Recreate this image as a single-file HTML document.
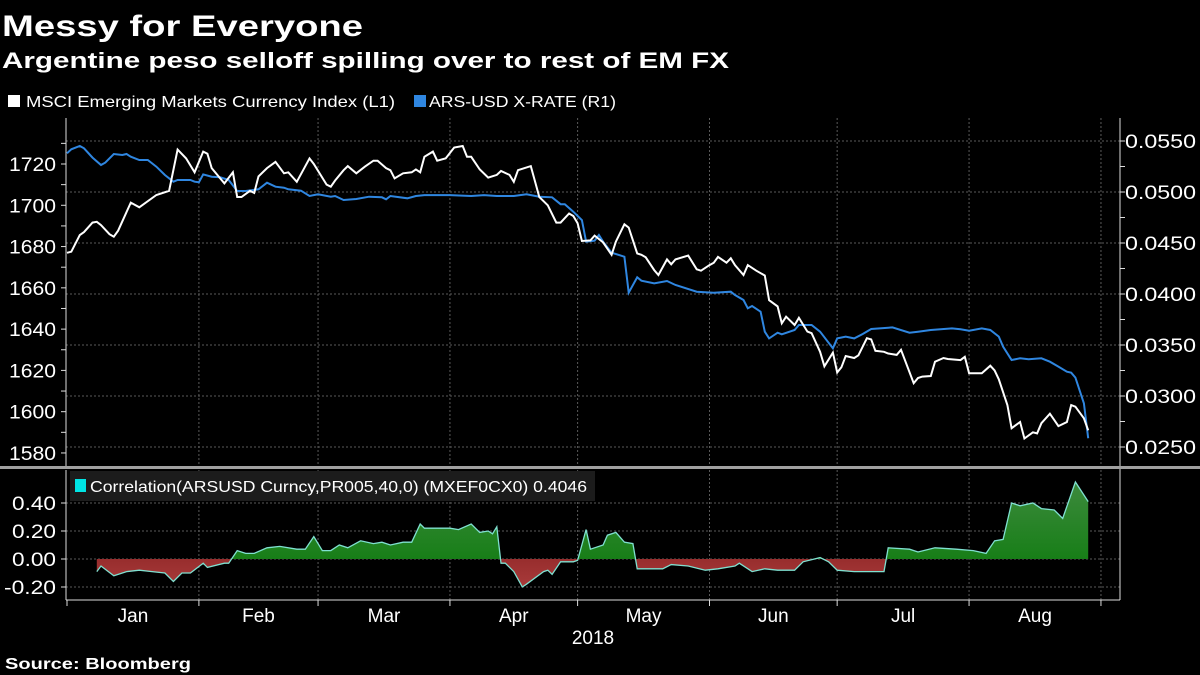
<!DOCTYPE html>
<html><head><meta charset="utf-8"><style>
html,body{margin:0;padding:0;background:#000;}
svg{display:block;font-family:"Liberation Sans",sans-serif;}
</style></head><body>
<svg id="chart" width="1200" height="675" viewBox="0 0 1200 675">
<defs>
<linearGradient id="gG" x1="0" y1="0" x2="0" y2="1"><stop offset="0" stop-color="#3d8a3d"/><stop offset="1" stop-color="#0a7a0a"/></linearGradient>
<linearGradient id="gR" x1="0" y1="0" x2="0" y2="1"><stop offset="0" stop-color="#6b0a0a"/><stop offset="1" stop-color="#a83a3a"/></linearGradient>
<clipPath id="cAbove"><rect x="60" y="440" width="1100" height="119"/></clipPath>
<clipPath id="cBelow"><rect x="60" y="559" width="1100" height="60"/></clipPath>
</defs>
<text x="2" y="36" fill="#fff" font-weight="bold" font-size="30" textLength="361" lengthAdjust="spacingAndGlyphs">Messy for Everyone</text>
<text x="2" y="68" fill="#fff" font-weight="bold" font-size="22" textLength="727" lengthAdjust="spacingAndGlyphs">Argentine peso selloff spilling over to rest of EM FX</text>
<g>
<rect x="8" y="95" width="12" height="12" fill="#fff"/>
<text x="26" y="107" fill="#fff" font-size="16" textLength="369" lengthAdjust="spacingAndGlyphs">MSCI Emerging Markets Currency Index  (L1)</text>
<rect x="414" y="95" width="12" height="12" fill="#2f86e0"/>
<text x="429" y="107" fill="#fff" font-size="16" textLength="187" lengthAdjust="spacingAndGlyphs">ARS-USD X-RATE  (R1)</text>
</g>
<g id="grid"></g>
<g id="axes"></g>
<g id="series"></g>
<rect x="70" y="471" width="525" height="30" fill="#1c1c1c"/>
<rect x="75" y="479" width="11" height="13" fill="#00e5e5"/>
<text x="90" y="492" fill="#fff" font-size="16" textLength="497" lengthAdjust="spacingAndGlyphs">Correlation(ARSUSD Curncy,PR005,40,0) (MXEF0CX0) 0.4046</text>
<text x="593" y="644" fill="#fff" font-size="19" text-anchor="middle">2018</text>
<text x="5" y="669" fill="#fff" font-weight="bold" font-size="16" textLength="186" lengthAdjust="spacingAndGlyphs">Source: Bloomberg</text>
</svg>
<script>
const msciDays=[0,1,3,4,6,7,8,10,11,12,15,17,21,24,26,28,30,32,33,34,37,39,40,41,43,44,45,47,49,51,52,54,57,58,61,62,63,65,66,68,70,72,73,75,76,77,79,81,82,83,84,86,87,89,91,93,94,95,97,99,101,102,104,105,106,109,111,113,115,116,118,119,120,121,123,124,126,128,129,131,132,134,135,136,138,139,141,142,143,146,148,149,151,152,153,155,156,157,159,160,162,164,165,167,168,169,171,172,174,175,177,178,180,181,182,183,185,186,188,189,190,192,193,195,196,199,200,201,203,204,206,207,210,211,212,215,217,218,219,221,222,224,225,227,228,229,231,232,233,235,236,237,239,240];
const msciValues=[1677,1677.5,1685.6,1687,1691.6,1692,1690.4,1686,1684.8,1687.7,1701.3,1699,1705,1707,1727,1722.7,1716,1726,1725,1718,1710.6,1716,1704,1704,1707,1706,1714,1718,1721,1715.5,1716,1711.4,1722.7,1720,1710,1709,1712,1717,1719,1715.5,1718.7,1721.6,1721.6,1718,1717,1713,1715.5,1716,1717.4,1716,1723.5,1726,1721.6,1722.7,1728,1728.7,1723.5,1723.5,1717.4,1713.4,1714.7,1716.6,1714.7,1711.4,1717,1719,1704,1700,1691.6,1691.6,1696,1694.8,1691.3,1682.7,1683,1685.3,1682,1676,1682.4,1690.8,1689.2,1676.7,1676,1674.8,1668.6,1666.2,1673.8,1671.4,1673.8,1675.6,1669,1668.3,1671,1672.2,1675,1672.2,1674.3,1671,1666.2,1671,1668.3,1666,1654,1651,1642.8,1646,1642,1645.5,1638.8,1638,1629,1622,1628.6,1619,1621.5,1627,1626,1627.3,1635.6,1635,1629.5,1629,1628.2,1627.5,1630,1613.8,1616.3,1617,1617.3,1624.2,1626,1625.5,1625,1626.6,1618.6,1618.6,1622.3,1620,1615.7,1603.2,1592,1595,1587,1590,1589.5,1594.4,1599,1596,1593,1595,1603.2,1602.4,1596.8,1591];
const arsDays=[0,1,3,4,6,8,9,11,13,14,15,17,19,21,23,25,26,29,30,31,32,34,36,38,40,42,45,47,49,51,52,55,57,59,62,63,65,68,71,74,75,76,80,82,84,90,95,98,101,105,108,111,114,116,117,119,121,122,124,125,126,128,131,132,134,135,138,141,143,148,152,156,157,159,160,161,163,164,165,167,168,171,172,175,177,180,181,183,185,187,189,191,194,198,200,203,208,210,212,215,217,219,220,222,224,226,229,231,233,235,236,237,239,240];
const arsValues=[0.05379,0.05419,0.05451,0.05428,0.05337,0.05265,0.05288,0.05373,0.05363,0.05373,0.05346,0.05314,0.05314,0.05248,0.05167,0.05101,0.05118,0.05118,0.05101,0.05095,0.05173,0.0515,0.05144,0.05118,0.0501,0.0501,0.05026,0.05091,0.05052,0.05042,0.05026,0.05013,0.04961,0.04977,0.04954,0.04961,0.04922,0.04931,0.04954,0.04948,0.04928,0.04961,0.04938,0.04961,0.0497,0.0497,0.04961,0.0497,0.04961,0.04961,0.04977,0.04954,0.04948,0.0488,0.0488,0.04807,0.04725,0.04513,0.04523,0.04578,0.04513,0.04405,0.04366,0.04013,0.04164,0.0413,0.04105,0.04127,0.04088,0.04023,0.04013,0.04023,0.0399,0.03941,0.0386,0.03882,0.03826,0.0363,0.03565,0.03621,0.03605,0.03647,0.03696,0.03696,0.0363,0.03468,0.03565,0.03582,0.03565,0.03608,0.03657,0.03663,0.03673,0.03621,0.0363,0.03647,0.03663,0.03654,0.0364,0.03663,0.03647,0.03582,0.03484,0.03353,0.0337,0.0336,0.0337,0.03336,0.03288,0.03238,0.03228,0.0318,0.02928,0.02585];
const corrDays=[7,8,11,14,17,20,23,25,27,29,32,33,37,38,40,42,44,47,50,54,56,58,60,62,64,66,69,72,74,76,79,81,83,84,90,92,95,97,99,100,101,102,103,105,107,108,112,113,114,116,119,120,122,123,126,127,129,131,133,134,140,142,146,150,153,157,158,161,164,167,171,173,177,179,181,185,189,192,193,198,200,204,209,213,216,218,220,222,224,227,229,232,234,237,240];
const corrValues=[-0.09,-0.05,-0.12,-0.09,-0.08,-0.09,-0.10,-0.16,-0.10,-0.10,-0.03,-0.06,-0.03,-0.03,0.06,0.04,0.04,0.08,0.09,0.07,0.07,0.16,0.06,0.06,0.10,0.08,0.13,0.11,0.12,0.10,0.12,0.12,0.25,0.22,0.22,0.21,0.25,0.19,0.20,0.18,0.23,-0.03,-0.03,-0.09,-0.20,-0.18,-0.09,-0.08,-0.11,-0.02,-0.02,-0.01,0.21,0.07,0.10,0.17,0.19,0.12,0.11,-0.07,-0.07,-0.04,-0.05,-0.08,-0.07,-0.05,-0.03,-0.09,-0.07,-0.08,-0.08,-0.02,0.01,-0.02,-0.08,-0.09,-0.09,-0.09,0.08,0.07,0.05,0.08,0.07,0.06,0.04,0.13,0.14,0.40,0.38,0.40,0.36,0.35,0.29,0.55,0.41];
const leftTicks=[1720,1700,1680,1660,1640,1620,1600,1580];
const rightTicks=[0.055,0.05,0.045,0.04,0.035,0.03,0.025];
const corrTicks=[0.4,0.2,0,-0.2];
const monthNames=["Jan","Feb","Mar","Apr","May","Jun","Jul","Aug"];
const monthStarts=[0,31,59,90,120,151,181,212,243];

const NS="http://www.w3.org/2000/svg";
const xS=d=>67+d*4.255;
const yL=v=>164+(1720-v)*2.064;
const yR=v=>141+(0.055-v)/0.005*51;
const yC=v=>559-v*140;
function mk(tag,attrs,parent){const e=document.createElementNS(NS,tag);for(const k in attrs)e.setAttribute(k,attrs[k]);parent.appendChild(e);return e;}
const grid=document.getElementById('grid'),axes=document.getElementById('axes'),series=document.getElementById('series');
const dash={stroke:"#5a5a5a","stroke-width":1,"stroke-dasharray":"2,2"};
rightTicks.forEach(v=>{const l=mk('line',Object.assign({x1:66,x2:1120,y1:yR(v),y2:yR(v)},dash),grid);

});
corrTicks.forEach(v=>{const l=mk('line',Object.assign({x1:66,x2:1120,y1:yC(v),y2:yC(v)},dash),grid);

});
monthStarts.slice(1).forEach(d=>{const x=xS(d);
const a=mk('line',Object.assign({x1:x,x2:x,y1:118,y2:466},dash),grid);


const b=mk('line',Object.assign({x1:x,x2:x,y1:470,y2:600},dash),grid);

});
const ax=[[66,118,66,466],[1120,118,1120,600],[66,470,66,600],[66,600,1120,600]];
ax.forEach(a=>{const l=mk('line',{x1:a[0],y1:a[1],x2:a[2],y2:a[3],stroke:"#ddd","stroke-width":1},axes);

});
const sep=mk('rect',{x:0,y:466,width:1200,height:3,fill:"#a0a0a0"},axes);


const txt=(x,y,s,anchor,fs,tl)=>{const t=mk('text',{x:x,y:y,fill:"#fff","font-size":fs,"text-anchor":anchor},axes);if(tl){t.setAttribute('textLength',tl);t.setAttribute('lengthAdjust','spacingAndGlyphs');}t.textContent=s;return t;};
for(let v=1580;v<=1730;v+=10){const y=yL(v);mk('line',{x1:61,x2:66,y1:y,y2:y,stroke:"#ddd"},axes);}
leftTicks.forEach(v=>{const t=txt(56,yL(v)+7,String(v),"end",19,47);

});
for(let v=0.025;v<=0.0575;v+=0.0025){const y=yR(v);mk('line',{x1:1120,x2:1125,y1:y,y2:y,stroke:"#ddd"},axes);}
rightTicks.forEach(v=>{const t=txt(1125,yR(v)+7,v.toFixed(4),"start",19,71);

});
corrTicks.forEach(v=>{const y=yC(v);mk('line',{x1:61,x2:66,y1:y,y2:y,stroke:"#ddd"},axes);
const t=txt(56,y+7,v.toFixed(2),"end",19,v<0?52:44);

});
monthStarts.forEach(d=>{mk('line',{x1:xS(d),x2:xS(d),y1:600,y2:606,stroke:"#ddd"},axes);});
monthNames.forEach((m,i)=>{const t=txt((xS(monthStarts[i])+xS(monthStarts[i+1]))/2,622,m,"middle",19);

});
const pts=(ds,vs,f)=>ds.map((d,i)=>xS(d).toFixed(1)+","+f(vs[i]).toFixed(1)).join(" ");
const cp=pts(corrDays,corrValues,yC);
const area="M"+xS(corrDays[0])+","+yC(0)+" L"+cp.split(" ").join(" L")+" L"+xS(corrDays[corrDays.length-1])+","+yC(0)+" Z";
const ga=mk('path',{d:area,fill:"url(#gG)","clip-path":"url(#cAbove)"},series);


const ra=mk('path',{d:area,fill:"url(#gR)","clip-path":"url(#cBelow)"},series);


const cl=mk('polyline',{points:cp,fill:"none",stroke:"#7fe0d0","stroke-width":1.3},series);


const bl=mk('polyline',{points:pts(arsDays,arsValues,yR),fill:"none",stroke:"#2f86e0","stroke-width":2},series);


const wl=mk('polyline',{points:pts(msciDays,msciValues,yL),fill:"none",stroke:"#fff","stroke-width":2},series);


</script>
</body></html>
